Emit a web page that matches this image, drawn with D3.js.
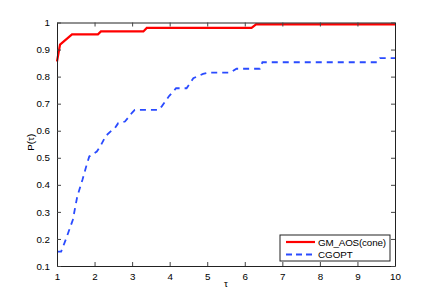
<!DOCTYPE html>
<html>
<head>
<meta charset="utf-8">
<script src="https://cdn.jsdelivr.net/npm/d3@7"></script>
<style>
  body { margin: 0; background: #fff; }
  text { font-family: "Liberation Sans", Arial, sans-serif; fill: #000; }
</style>
</head>
<body>
<svg id="graphic-container" width="436" height="300"></svg>
<script>
// performance profile data
const redTau = [1, 1.08, 1.40, 2.09, 2.17, 3.30, 3.39, 6.18, 6.30, 10];
const redP = [0.856, 0.918, 0.956, 0.956, 0.967, 0.967, 0.980, 0.980, 0.993, 0.993];

const blueTau = [1, 1.11, 1.24, 1.42, 1.54, 1.68, 1.79, 1.86, 2.06, 2.16, 2.30, 2.45, 2.54, 2.63, 2.81,
  2.99, 3.07, 3.70, 3.79, 3.99, 4.17, 4.45, 4.63, 4.89, 5.05, 5.62, 5.78, 6.40, 6.47, 9.52, 9.60, 10];
const blueP = [0.153, 0.153, 0.200, 0.270, 0.357, 0.420, 0.474, 0.505, 0.523, 0.544, 0.581, 0.600, 0.609, 0.628, 0.634,
  0.665, 0.677, 0.677, 0.690, 0.729, 0.757, 0.757, 0.794, 0.810, 0.815, 0.815, 0.829, 0.829, 0.853, 0.853, 0.868, 0.868];

const seriesNames = ["GM_AOS(cone)", "CGOPT"];
const xTicks = [1, 2, 3, 4, 5, 6, 7, 8, 9, 10];
const yTicks = [0.1, 0.2, 0.3, 0.4, 0.5, 0.6, 0.7, 0.8, 0.9, 1];

const $svg = d3.select("#graphic-container");
const box = { left: 57, right: 395, top: 22.5, bottom: 266 };
const tickLen = 4,
  fontSize = 9.8;

const x = d3.scaleLinear().domain([1, 10]).range([box.left, box.right]);
const y = d3.scaleLinear().domain([0.1, 1]).range([box.bottom, box.top]);

const line = d3.line().x(d => x(d[0])).y(d => y(d[1]));

// lines
$svg.append("path")
  .datum(d3.zip(blueTau, blueP))
  .attr("d", line)
  .attr("fill", "none")
  .attr("stroke", "#2a4bff")
  .attr("stroke-width", 1.8)
  .attr("stroke-dasharray", "6,5");

$svg.append("path")
  .datum(d3.zip(redTau, redP))
  .attr("d", line)
  .attr("fill", "none")
  .attr("stroke", "#ff0000")
  .attr("stroke-width", 2.2);

// axes, matlab style: ticks inward on all four sides
const fmt = d => d3.format("")(+d.toFixed(1));
$svg.append("g")
  .attr("transform", `translate(0,${box.bottom})`)
  .call(d3.axisBottom(x).tickValues(xTicks).tickSizeInner(-tickLen).tickSizeOuter(0).tickPadding(7))
  .call(g => g.selectAll("text").attr("font-size", fontSize));
$svg.append("g")
  .attr("transform", `translate(0,${box.top})`)
  .call(d3.axisTop(x).tickValues(xTicks).tickSizeInner(-tickLen).tickSizeOuter(0).tickFormat(""));
$svg.append("g")
  .attr("transform", `translate(${box.left},0)`)
  .call(d3.axisLeft(y).tickValues(yTicks).tickSizeInner(-tickLen).tickSizeOuter(0).tickPadding(7).tickFormat(fmt))
  .call(g => g.selectAll("text").attr("font-size", fontSize));
$svg.append("g")
  .attr("transform", `translate(${box.right},0)`)
  .call(d3.axisRight(y).tickValues(yTicks).tickSizeInner(-tickLen).tickSizeOuter(0).tickFormat(""));

$svg.selectAll(".domain").attr("stroke", "#222");
$svg.selectAll(".tick line").attr("stroke", "#444");
$svg.selectAll(".tick text").attr("fill", "#111").attr("font-family", "Liberation Sans, Arial, sans-serif");

// axis labels
$svg.append("text")
  .text("\u03c4")
  .attr("x", (box.left + box.right) / 2)
  .attr("y", 287)
  .attr("text-anchor", "middle")
  .attr("font-size", fontSize);
$svg.append("text")
  .text("P(\u03c4)")
  .attr("transform", `translate(34,${(box.top + box.bottom) / 2 - 2}) rotate(-90)`)
  .attr("text-anchor", "middle")
  .attr("font-size", fontSize);

// legend
const legend = $svg.append("g").attr("transform", "translate(280,235)");
legend.append("rect")
  .attr("width", 110).attr("height", 26)
  .attr("fill", "#fff").attr("stroke", "#222").attr("stroke-width", 1);
const styles = [
  { color: "#ff0000", dash: null, w: 2.2 },
  { color: "#2a4bff", dash: "6,4", w: 1.8 }
];
seriesNames.forEach((name, i) => {
  const ly = 7 + i * 12.5;
  legend.append("line")
    .attr("x1", 6).attr("x2", 35).attr("y1", ly).attr("y2", ly)
    .attr("stroke", styles[i].color)
    .attr("stroke-width", styles[i].w)
    .attr("stroke-dasharray", styles[i].dash);
  legend.append("text")
    .text(name)
    .attr("x", 38).attr("y", ly)
    .attr("dominant-baseline", "central")
    .attr("font-size", fontSize)
    .attr("textLength", i === 0 ? 68 : null);
});
</script>
</body>
</html>
